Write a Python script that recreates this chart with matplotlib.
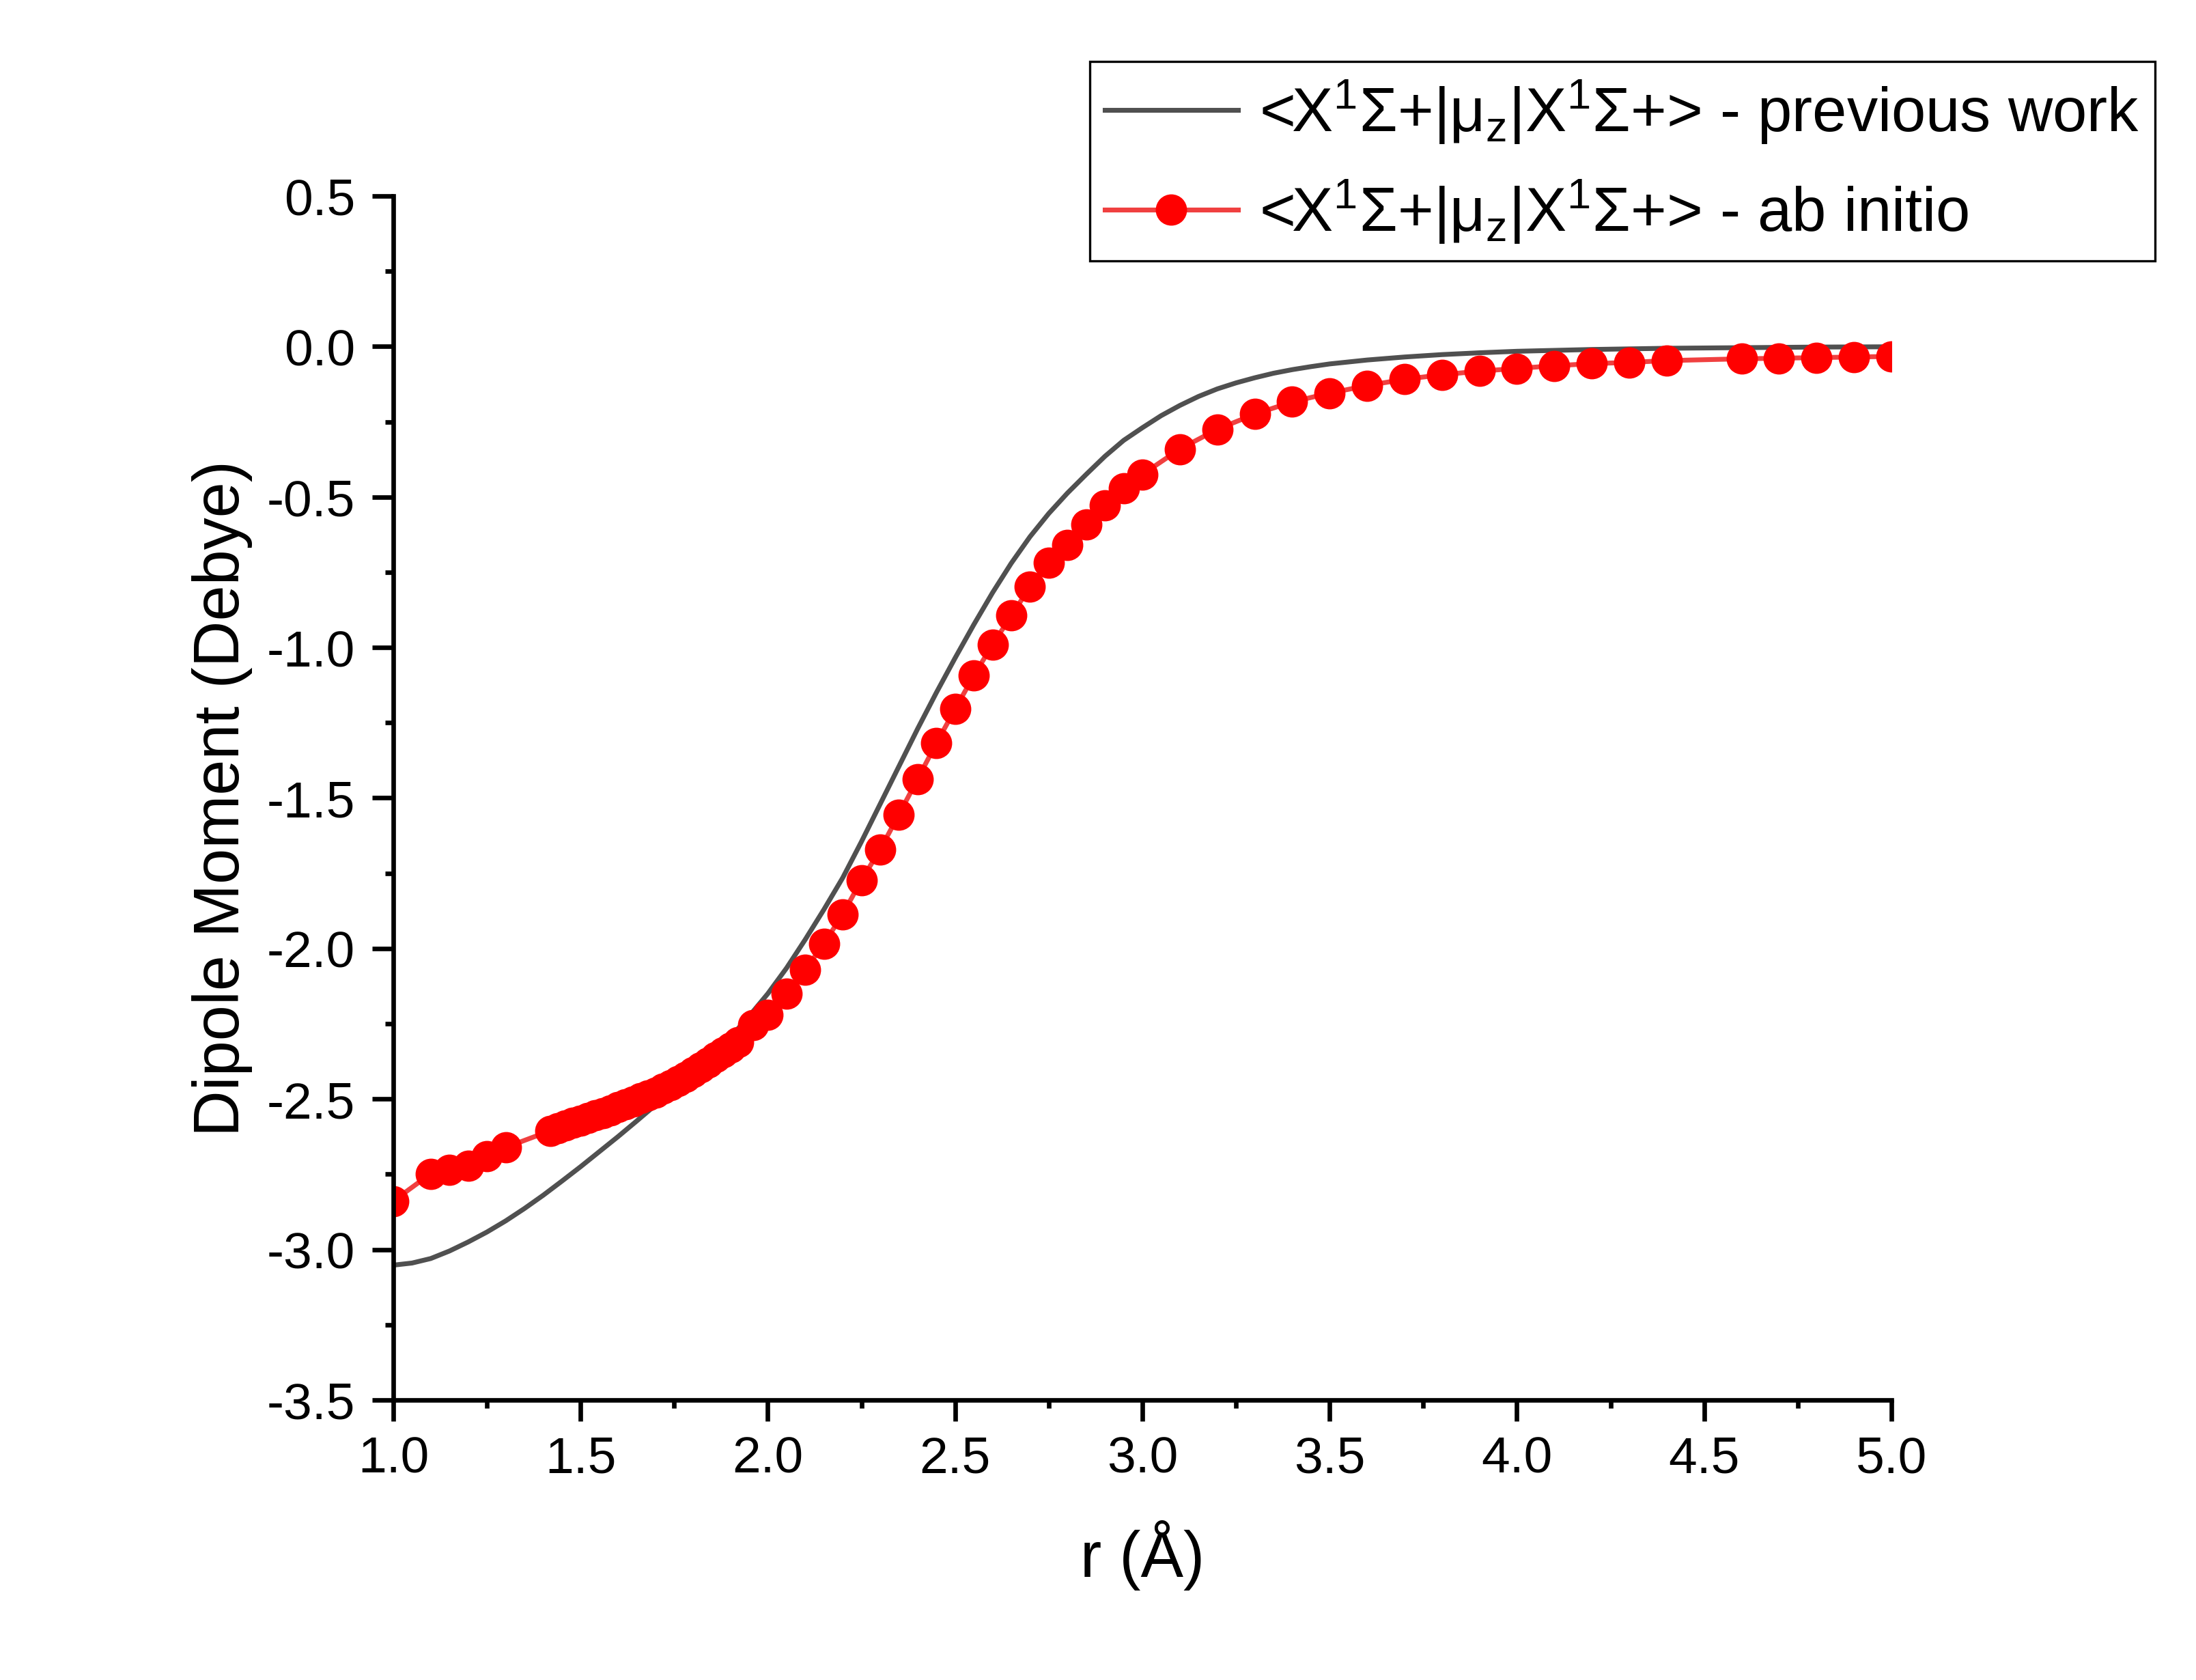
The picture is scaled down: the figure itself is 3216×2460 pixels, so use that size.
import matplotlib
matplotlib.use("Agg")
import matplotlib.pyplot as plt
from matplotlib.ticker import MultipleLocator, FormatStrFormatter

plt.rcParams['font.family'] = ['Liberation Sans', 'DejaVu Sans']
plt.rcParams['mathtext.fontset'] = 'custom'
plt.rcParams['mathtext.rm'] = 'Liberation Sans'
plt.rcParams['mathtext.it'] = 'Liberation Sans:italic'
plt.rcParams['axes.unicode_minus'] = False

# previous work (smooth curve)
r_prev = [1.0, 1.05, 1.1, 1.15, 1.2, 1.25, 1.3, 1.35, 1.4, 1.45, 1.5, 1.55, 1.6,
          1.65, 1.7, 1.75, 1.8, 1.85, 1.9, 1.95, 2.0, 2.05, 2.1, 2.15, 2.2, 2.25,
          2.3, 2.35, 2.4, 2.45, 2.5, 2.55, 2.6, 2.65, 2.7, 2.75, 2.8, 2.85, 2.9,
          2.95, 3.0, 3.05, 3.1, 3.15, 3.2, 3.25, 3.3, 3.35, 3.4, 3.45, 3.5, 3.6,
          3.7, 3.8, 3.9, 4.0, 4.2, 4.4, 4.6, 4.8, 5.0]
mu_prev = [-3.052, -3.045, -3.03, -3.005, -2.975, -2.942, -2.905, -2.864, -2.82,
           -2.773, -2.725, -2.675, -2.625, -2.573, -2.52, -2.468, -2.415, -2.357,
           -2.295, -2.225, -2.15, -2.065, -1.97, -1.87, -1.765, -1.645, -1.52,
           -1.395, -1.27, -1.15, -1.035, -0.924, -0.818, -0.72, -0.632, -0.555,
           -0.487, -0.425, -0.365, -0.312, -0.27, -0.23, -0.196, -0.166, -0.141,
           -0.121, -0.104, -0.089, -0.077, -0.067, -0.058, -0.045, -0.035, -0.027,
           -0.021, -0.016, -0.01, -0.006, -0.004, -0.002, -0.001]

# ab initio points
r_ab = [1.0, 1.1, 1.15, 1.2, 1.25, 1.3,
        1.42, 1.44, 1.46, 1.48, 1.50, 1.52, 1.54, 1.56, 1.58, 1.60, 1.62, 1.64,
        1.66, 1.68, 1.70, 1.72, 1.74, 1.76, 1.78, 1.80, 1.82, 1.84, 1.86, 1.88,
        1.90, 1.92,
        1.96, 2.0, 2.05, 2.1, 2.15, 2.2, 2.25, 2.3, 2.35, 2.4, 2.45, 2.5, 2.55,
        2.6, 2.65, 2.7, 2.75, 2.8, 2.85, 2.9, 2.95, 3.0,
        3.1, 3.2, 3.3, 3.4, 3.5, 3.6, 3.7, 3.8, 3.9, 4.0, 4.1, 4.2, 4.3, 4.4,
        4.6, 4.7, 4.8, 4.9, 5.0]
mu_ab = [-2.839, -2.748, -2.736, -2.722, -2.689, -2.661,
         -2.605, -2.596, -2.588, -2.580, -2.572, -2.563, -2.555, -2.546, -2.537,
         -2.527, -2.518, -2.508, -2.498, -2.488, -2.478, -2.466, -2.454, -2.441,
         -2.427, -2.412, -2.396, -2.379, -2.362, -2.345, -2.330, -2.312,
         -2.255, -2.22, -2.15, -2.07, -1.984, -1.886, -1.773, -1.671, -1.555,
         -1.437, -1.318, -1.205, -1.093, -0.991, -0.894, -0.799, -0.718, -0.66,
         -0.591, -0.529, -0.472, -0.425,
         -0.341, -0.275, -0.225, -0.184, -0.155, -0.13, -0.109, -0.094, -0.082,
         -0.073, -0.064, -0.057, -0.053, -0.047,
         -0.041, -0.039, -0.037, -0.035, -0.033]

lab_prev = r'<X$^{1}$Σ+|μ$_{\mathrm{z}}$|X$^{1}$Σ+> - previous work'
lab_ab = r'<X$^{1}$Σ+|μ$_{\mathrm{z}}$|X$^{1}$Σ+> - ab initio'

fig = plt.figure(figsize=(10.72, 8.2033), dpi=300)
ax = fig.add_axes([0.1791, 0.1666, 0.8613 - 0.1791, 0.8830 - 0.1666])

ax.plot(r_prev, mu_prev, color='#505050', lw=1.7, label=lab_prev)
ax.plot(r_ab, mu_ab, color='#f04040', lw=1.7, marker='o', ms=10,
        mfc='#ff0000', mec='#ff0000', label=lab_ab)

ax.set_xlim(1.0, 5.0)
ax.set_ylim(-3.5, 0.5)
ax.xaxis.set_major_locator(MultipleLocator(0.5))
ax.xaxis.set_minor_locator(MultipleLocator(0.25))
ax.yaxis.set_major_locator(MultipleLocator(0.5))
ax.yaxis.set_minor_locator(MultipleLocator(0.25))
ax.xaxis.set_major_formatter(FormatStrFormatter('%.1f'))
ax.yaxis.set_major_formatter(FormatStrFormatter('%.1f'))

for s in ['top', 'right']:
    ax.spines[s].set_visible(False)
for s in ['left', 'bottom']:
    ax.spines[s].set_linewidth(1.6)

ax.tick_params(which='major', direction='out', length=7.4, width=1.6,
               labelsize=18)
ax.tick_params(which='minor', direction='out', length=2.9, width=1.6)
ax.tick_params(axis='x', which='major', pad=5)
ax.tick_params(axis='y', which='major', pad=6)

ax.set_xlabel('r (Å)', fontsize=22.5, labelpad=13)
ax.set_ylabel('Dipole Moment (Debye)', fontsize=22.5, labelpad=5)

leg = fig.legend(loc='upper right', bbox_to_anchor=(3156 / 3216, 1 - 91 / 2461),
                 fontsize=21.7, frameon=True, fancybox=False, framealpha=1,
                 edgecolor='black', borderpad=0.25, handlelength=2.15,
                 handletextpad=0.35, labelspacing=0.5, borderaxespad=0)
leg.get_frame().set_linewidth(0.8)

fig.savefig('out.png', dpi=300)
